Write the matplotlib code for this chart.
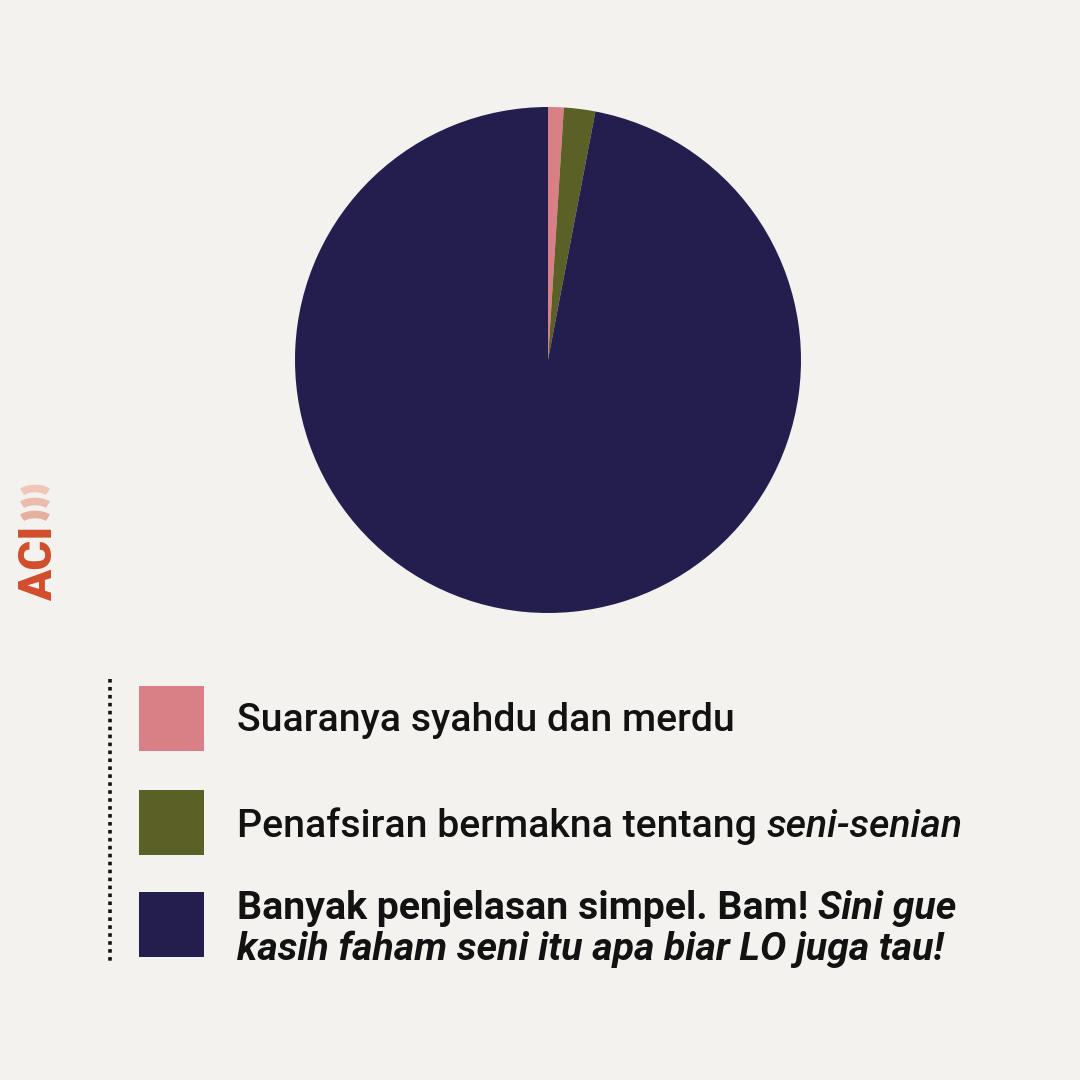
import matplotlib
matplotlib.use("Agg")
import matplotlib.pyplot as plt
from matplotlib.patches import Rectangle, Arc

# ---- data ----
categories = ["Suaranya syahdu dan merdu",
              "Penafsiran bermakna tentang seni-senian",
              "Banyak penjelasan simpel. Bam! Sini gue kasih faham seni itu apa biar LO juga tau!"]
values = [1.0, 2.0, 97.0]
colors = ["#d98087", "#5b6026", "#241e4f"]

BG = "#f4f2ee"
TXT = "#121212"

fig = plt.figure(figsize=(10.8, 10.8), dpi=100)
fig.patch.set_facecolor(BG)

W = H = 1080.0
def fx(px): return px / W
def fy(py): return 1 - py / H

# ---- pie ----
cx, cy, r = 548, 360, 253
ax = fig.add_axes([fx(cx - r), fy(cy + r), 2 * r / W, 2 * r / H])
ax.pie(values, colors=colors, startangle=90, counterclock=False,
       wedgeprops=dict(linewidth=0))
ax.set_xlim(-1, 1); ax.set_ylim(-1, 1)
ax.set_aspect("equal")
ax.axis("off")

# ---- legend ----
lax = fig.add_axes([0, 0, 1, 1], facecolor="none")
lax.set_xlim(0, W); lax.set_ylim(H, 0)
lax.axis("off")

# dotted line
lax.plot([110, 110], [679, 962], color=TXT, linestyle=(0, (1, 1.2)), linewidth=2.6)

sq_tops = [686, 790, 892]
for t, c in zip(sq_tops, colors):
    lax.add_patch(Rectangle((139, t), 65, 65, facecolor=c, edgecolor="none"))

FS = 28.3
FAM = "Roboto"

fig.canvas.draw()
renderer = fig.canvas.get_renderer()

def run(x, y, pieces):
    for txt, weight, style in pieces:
        t = lax.text(x, y, txt, fontsize=FS, family=FAM, fontweight=weight,
                     fontstyle=style, color=TXT, va="baseline", ha="left")
        bb = t.get_window_extent(renderer=renderer)
        x += bb.width

run(237, 731, [("Suaranya syahdu dan merdu", "medium", "normal")])
run(237, 837, [("Penafsiran bermakna tentang ", "medium", "normal"),
               ("seni-senian", "medium", "italic")])
run(237, 919, [("Banyak penjelasan simpel. Bam! ", "bold", "normal"),
               ("Sini gue", "bold", "italic")])
run(237, 960, [("kasih faham seni itu apa biar LO juga tau!", "bold", "italic")])

# ---- ACI logo ----
lax.text(52, 601, "ACI", rotation=90, fontsize=33, family=FAM, fontweight="black",
         color="#d14e2c", ha="left", va="baseline", rotation_mode="anchor")
for yc, col in zip([496.5, 509.5, 522.5], ["#efc6b8", "#ebbcab", "#e6b09e"]):
    lax.add_patch(Arc((35, yc), 32, 16, theta1=200, theta2=340,
                      color=col, linewidth=5.5))

fig.savefig("out.png", dpi=100, facecolor=BG)
